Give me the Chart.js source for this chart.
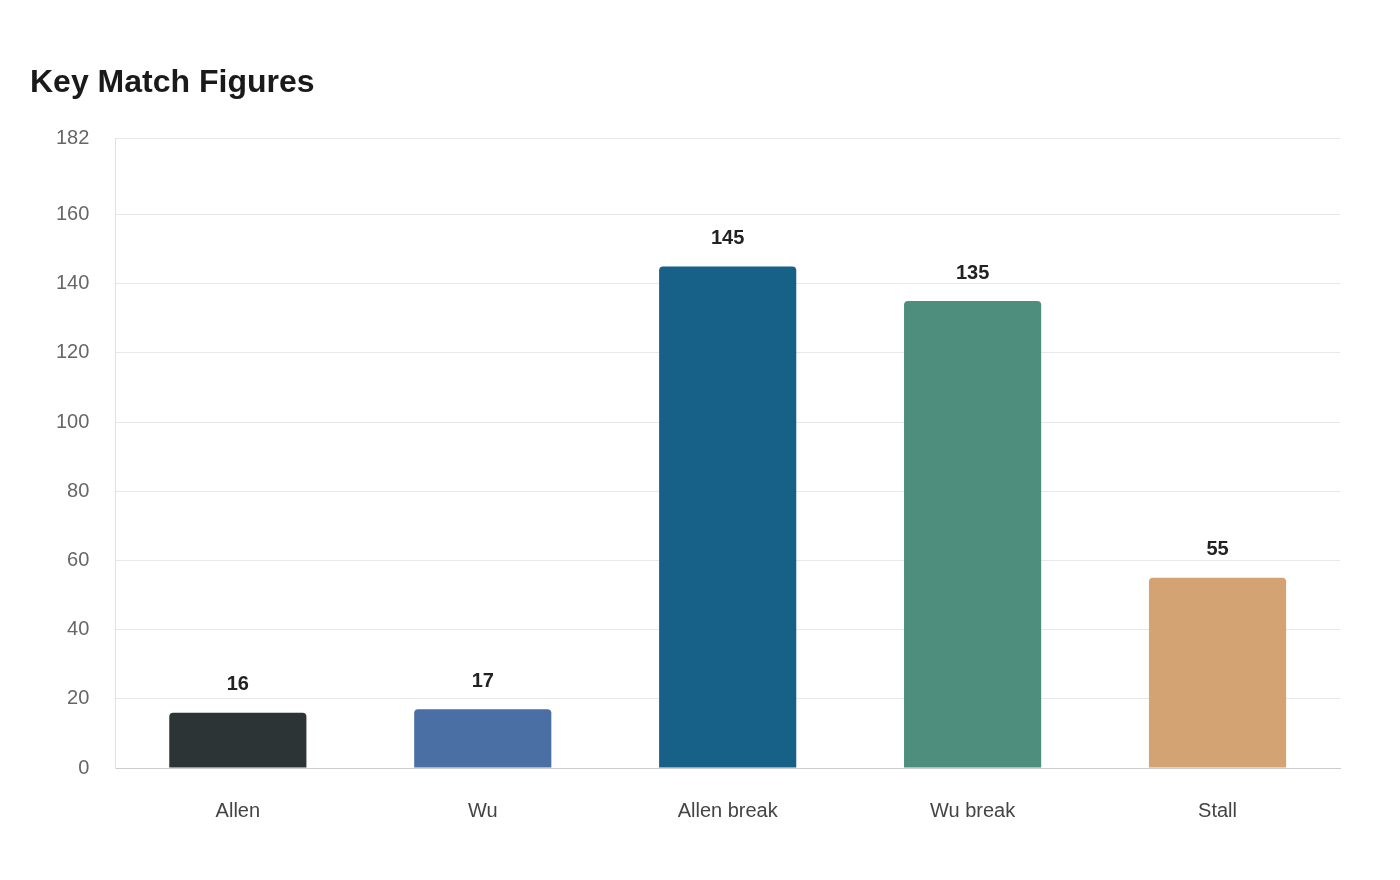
<!DOCTYPE html>
<html>
<head>
<meta charset="utf-8">
<script src="https://cdn.jsdelivr.net/npm/chart.js@4/dist/chart.umd.min.js"></script>
<style>
  html, body { margin: 0; background: #fff; }
  #wrap { width: 1400px; height: 880px; }
</style>
</head>
<body>
<div id="wrap"><canvas id="chart"></canvas></div>
<script>
const categories = ['Allen', 'Wu', 'Allen break', 'Wu break', 'Stall'];
const values = [16, 17, 145, 135, 55];
const barColors = ['#2d3436', '#4a6fa5', '#176087', '#4e8e7c', '#d4a373'];
const yTicks = [0, 20, 40, 60, 80, 100, 120, 140, 160, 182];

// values above bars
const valueLabels = {
  id: 'valueLabels',
  afterDatasetsDraw(chart) {
    const ctx = chart.ctx;
    const meta = chart.getDatasetMeta(0);
    ctx.save();
    ctx.font = 'bold 20px "Liberation Sans", Arial, sans-serif';
    ctx.fillStyle = '#222';
    ctx.textAlign = 'center';
    ctx.textBaseline = 'bottom';
    meta.data.forEach((bar, i) => {
      ctx.fillText(values[i], bar.x, bar.y - 18);
    });
    ctx.restore();
  }
};

new Chart(document.getElementById('chart'), {
  type: 'bar',
  data: {
    labels: categories,
    datasets: [{
      data: values,
      backgroundColor: barColors,
      borderRadius: { topLeft: 4, topRight: 4 },
      borderSkipped: 'bottom',
      barPercentage: 0.56,
      categoryPercentage: 1
    }]
  },
  options: {
    responsive: true,
    maintainAspectRatio: false,
    animation: false,
    layout: { padding: { left: 30, right: 60, top: 64, bottom: 34 } },
    plugins: {
      legend: { display: false },
      tooltip: { enabled: false },
      title: {
        display: true,
        text: 'Key Match Figures',
        align: 'start',
        color: '#1a1a1a',
        font: { family: '"Liberation Sans", Arial, sans-serif', size: 32, weight: 'bold' },
        padding: { left: 10, top: 0, bottom: 36 }
      }
    },
    scales: {
      x: {
        grid: { display: false },
        border: { color: '#ccc' },
        ticks: {
          color: '#444',
          padding: 23,
          font: { family: '"Liberation Sans", Arial, sans-serif', size: 20 }
        }
      },
      y: {
        min: 0,
        max: 182,
        afterBuildTicks(axis) { axis.ticks = yTicks.map(v => ({ value: v })); },
        grid: { color: '#e8e8e8', drawTicks: false },
        border: { color: '#e0e0e0' },
        ticks: {
          color: '#666',
          padding: 26,
          font: { family: '"Liberation Sans", Arial, sans-serif', size: 20 }
        }
      }
    }
  },
  plugins: [valueLabels]
});
</script>
</body>
</html>
